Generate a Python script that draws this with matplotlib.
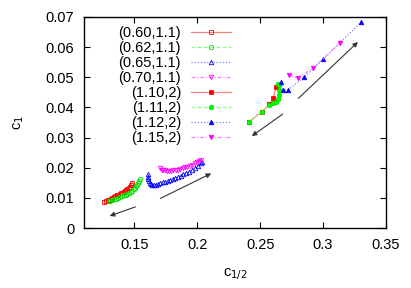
import matplotlib
matplotlib.use("Agg")
import matplotlib.pyplot as plt

plt.rcParams['font.family'] = ['Liberation Sans', 'DejaVu Sans']

# (0.60,1.1) open squares
x_a = [0.1262, 0.1275, 0.1288, 0.1300, 0.1312, 0.1324, 0.1336, 0.1348, 0.1360, 0.1372, 0.1384,
       0.1395, 0.1405, 0.1415, 0.1425, 0.1435, 0.1445, 0.1455, 0.1465, 0.1474, 0.1482]
y_a = [0.0086, 0.0089, 0.0092, 0.0094, 0.0097, 0.0100, 0.0103, 0.0105, 0.0108, 0.0110, 0.0113,
       0.0115, 0.0117, 0.0120, 0.0123, 0.0126, 0.0129, 0.0133, 0.0137, 0.0143, 0.0150]
# (0.62,1.1) open circles
x_b = [0.1296, 0.1310, 0.1325, 0.1340, 0.1355, 0.1370, 0.1385, 0.1400, 0.1415, 0.1430, 0.1444,
       0.1458, 0.1470, 0.1482, 0.1494, 0.1505, 0.1515, 0.1524, 0.1532, 0.1538, 0.1542]
y_b = [0.0089, 0.0091, 0.0093, 0.0095, 0.0097, 0.0099, 0.0102, 0.0105, 0.0108, 0.0111, 0.0114,
       0.0117, 0.0120, 0.0124, 0.0128, 0.0133, 0.0138, 0.0143, 0.0149, 0.0155, 0.0162]
# (0.65,1.1) open up-triangles
x_c = [0.1606, 0.1608, 0.1611, 0.1615, 0.1621, 0.1630, 0.1642, 0.1656, 0.1672, 0.1690, 0.1708,
       0.1727, 0.1746, 0.1765, 0.1785, 0.1805, 0.1826, 0.1847, 0.1868, 0.1890, 0.1912, 0.1935,
       0.1958, 0.1982, 0.2006, 0.2030, 0.2040]
y_c = [0.0179, 0.0170, 0.0162, 0.0155, 0.0150, 0.0146, 0.0143, 0.0143, 0.0144, 0.0146, 0.0148,
       0.0151, 0.0154, 0.0157, 0.0160, 0.0163, 0.0166, 0.0170, 0.0174, 0.0178, 0.0182, 0.0187,
       0.0193, 0.0199, 0.0206, 0.0214, 0.0220]
# (0.70,1.1) open down-triangles
x_d = [0.1706, 0.1718, 0.1731, 0.1745, 0.1760, 0.1776, 0.1793, 0.1810, 0.1828, 0.1846, 0.1865,
       0.1884, 0.1903, 0.1922, 0.1941, 0.1960, 0.1979, 0.1997, 0.2014, 0.2030]
y_d = [0.0198, 0.0194, 0.0192, 0.0191, 0.0190, 0.0190, 0.0190, 0.0191, 0.0192, 0.0194, 0.0196,
       0.0198, 0.0201, 0.0204, 0.0207, 0.0210, 0.0214, 0.0218, 0.0222, 0.0226]
# (1.10,2) filled squares
x_e = [0.2413, 0.2514, 0.2574, 0.2606, 0.2625]
y_e = [0.0353, 0.0386, 0.0410, 0.0430, 0.0469]
# (1.11,2) filled circles
x_f = [0.2413, 0.2514, 0.2574, 0.2603, 0.2625, 0.2641, 0.2651, 0.2653, 0.2651, 0.2641]
y_f = [0.0351, 0.0386, 0.0408, 0.0415, 0.0419, 0.0427, 0.0441, 0.0458, 0.0474, 0.0478]
# (1.12,2) filled up-triangles
x_g = [0.2667, 0.2680, 0.2720, 0.2849, 0.3003, 0.3302]
y_g = [0.0483, 0.0458, 0.0458, 0.0500, 0.0560, 0.0683]
# (1.15,2) filled down-triangles
x_h = [0.2733, 0.2802, 0.2923, 0.3137]
y_h = [0.0507, 0.0497, 0.0532, 0.0615]

labels = ['(0.60,1.1)', '(0.62,1.1)', '(0.65,1.1)', '(0.70,1.1)',
          '(1.10,2)', '(1.11,2)', '(1.12,2)', '(1.15,2)']

# arrows: (tail_x, tail_y, head_x, head_y)
arrows = [(0.1508, 0.0070, 0.1304, 0.0040),
          (0.1706, 0.0098, 0.2111, 0.0181),
          (0.2680, 0.0378, 0.2434, 0.0305),
          (0.2804, 0.0430, 0.3277, 0.0617)]

x_ticks = [0.15, 0.2, 0.25, 0.3, 0.35]
x_ticklabels = ['0.15', '0.2', '0.25', '0.3', '0.35']
y_ticks = [0, 0.01, 0.02, 0.03, 0.04, 0.05, 0.06, 0.07]
y_ticklabels = ['0', '0.01', '0.02', '0.03', '0.04', '0.05', '0.06', '0.07']

fig = plt.figure(figsize=(4.11, 2.88), dpi=100)
ax = fig.add_axes([0.2044, 0.2083, 0.7346, 0.7327])

series = [
    (x_a, y_a, 's', 'none', '#ff0000', '#ff8080', '-'),
    (x_b, y_b, 'o', 'none', '#00dd00', '#80ff80', (0, (3, 2))),
    (x_c, y_c, '^', 'none', '#0000ff', '#8080ff', (0, (1, 1.5))),
    (x_d, y_d, 'v', 'none', '#ff00ff', '#ff80ff', (0, (3, 1.5, 1, 1.5))),
    (x_e, y_e, 's', '#ff0000', '#ff0000', '#ff8080', '-'),
    (x_f, y_f, 'o', '#00ff00', '#00dd00', '#80ff80', (0, (3, 2))),
    (x_g, y_g, '^', '#0000ff', '#0000ff', '#8080ff', (0, (1, 1.5))),
    (x_h, y_h, 'v', '#ff00ff', '#ff00ff', '#ff80ff', (0, (3, 1.5, 1, 1.5))),
]

handles = []
for (xs, ys, m, fc, ec, lc, ls), lab in zip(series, labels):
    h, = ax.plot(xs, ys, linestyle=ls, color=lc, lw=0.9, marker=m, ms=3.2,
                 markerfacecolor=fc, markeredgecolor=ec, markeredgewidth=0.6, label=lab)
    handles.append(h)

for tx, ty, hx, hy in arrows:
    ax.annotate('', xy=(hx, hy), xytext=(tx, ty),
                arrowprops=dict(arrowstyle='-|>', color='#333333', lw=0.8,
                                mutation_scale=7, shrinkA=0, shrinkB=0))

ax.set_xlim(0.11, 0.35)
ax.set_ylim(0, 0.07)
ax.set_xticks(x_ticks)
ax.set_xticklabels(x_ticklabels)
ax.set_yticks(y_ticks)
ax.set_yticklabels(y_ticklabels)
ax.tick_params(direction='in', top=True, right=True, length=4, width=0.8, labelsize=10.5, pad=7)
for s in ax.spines.values():
    s.set_linewidth(1.0)

ax.set_xlabel('c$_{1/2}$', fontsize=10.5, labelpad=10)
ax.set_ylabel('c$_1$', fontsize=10.5, labelpad=14)

leg = ax.legend(handles=handles, loc='upper left', bbox_to_anchor=(0.085, 1.0),
                frameon=False, fontsize=10.5, markerfirst=False, handlelength=2.75,
                handletextpad=0.7, labelspacing=0.07, borderaxespad=0.2)
for t in leg.get_texts():
    t.set_ha('right')
leg._legend_box.align = 'right'

fig.savefig('out.png', dpi=100)
